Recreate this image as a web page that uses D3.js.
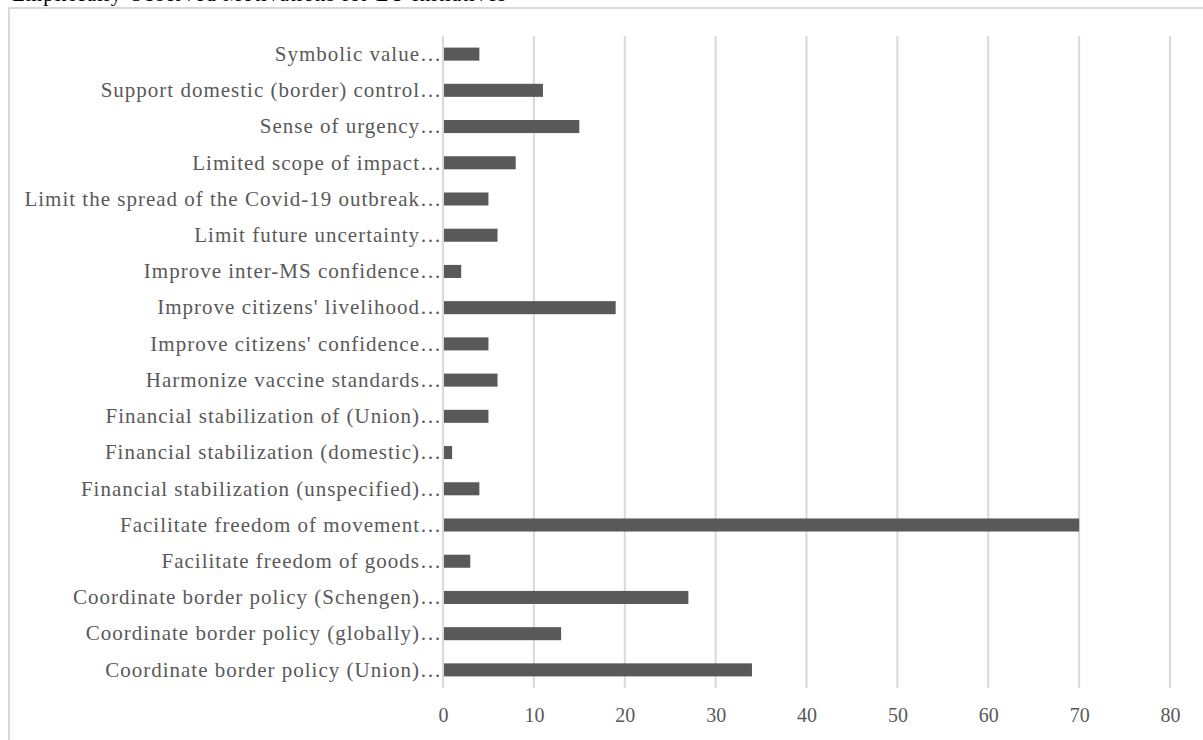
<!DOCTYPE html>
<html>
<head>
<meta charset="utf-8">
<script src="https://cdn.jsdelivr.net/npm/d3@7"></script>
<style>
  html, body { margin: 0; padding: 0; background: #fff; }
  svg { display: block; }
  text { font-family: "Liberation Serif", "DejaVu Serif", serif; }
</style>
</head>
<body>
<svg id="chart" width="1203" height="740"></svg>
<script>
// Motivations, listed top to bottom as drawn
const categories = [
  "Symbolic value",
  "Support domestic (border) control",
  "Sense of urgency",
  "Limited scope of impact",
  "Limit the spread of the Covid-19 outbreak",
  "Limit future uncertainty",
  "Improve inter-MS confidence",
  "Improve citizens' livelihood",
  "Improve citizens' confidence",
  "Harmonize vaccine standards",
  "Financial stabilization of (Union)",
  "Financial stabilization (domestic)",
  "Financial stabilization (unspecified)",
  "Facilitate freedom of movement",
  "Facilitate freedom of goods",
  "Coordinate border policy (Schengen)",
  "Coordinate border policy (globally)",
  "Coordinate border policy (Union)"
];
const counts = [4, 11, 15, 8, 5, 6, 2, 19, 5, 6, 5, 1, 4, 70, 3, 27, 13, 34];
const tickValues = [0, 10, 20, 30, 40, 50, 60, 70, 80];
const titleText = "Empirically Observed Motivations for EU Initiatives";

const svg = d3.select("#chart");
const margin = { left: 443, top: 36, bottom: 52 };
const W = 1203, H = 740;

// Chart frame (top and left edges)
svg.append("path")
  .attr("d", `M9,740 V8 H1203`)
  .attr("fill", "none")
  .attr("stroke", "#d9d9d9")
  .attr("stroke-width", 2);

// Title, running off the top of the page
svg.append("text")
  .attr("x", 12)
  .attr("y", 0.5)
  .attr("font-size", 21)
  .attr("letter-spacing", 1.0)
  .attr("fill", "#000")
  .text(titleText);

const x = d3.scaleLinear().domain([0, 80]).range([margin.left, 1170]);
const y = d3.scaleBand().domain(categories)
  .range([margin.top, H - margin.bottom])
  .paddingInner(0.64).paddingOuter(0.32);

// Vertical gridlines
svg.append("g")
  .selectAll("line")
  .data(tickValues)
  .join("line")
  .attr("x1", d => x(d)).attr("x2", d => x(d))
  .attr("y1", margin.top).attr("y2", H - margin.bottom)
  .attr("stroke", "#d9d9d9")
  .attr("stroke-width", 2);

// Bars
svg.append("g")
  .selectAll("rect")
  .data(categories.map((c, i) => ({ c, v: counts[i] })))
  .join("rect")
  .attr("x", x(0) + 1)
  .attr("y", d => y(d.c))
  .attr("width", d => x(d.v) - x(0) - 1)
  .attr("height", y.bandwidth())
  .attr("fill", "#595959");

// Category axis labels
const yAxis = d3.axisLeft(y).tickSize(0).tickPadding(1)
  .tickFormat(d => d + "\u2026");
const gy = svg.append("g")
  .attr("transform", `translate(${margin.left},0)`)
  .call(yAxis);
gy.select(".domain").remove();
gy.selectAll("text")
  .attr("font-family", "'Liberation Serif', serif")
  .attr("font-size", 21)
  .attr("letter-spacing", 1.0)
  .attr("fill", "#595959");

// Value axis labels
const xAxis = d3.axisBottom(x).tickValues(tickValues).tickSize(0).tickPadding(0);
const gx = svg.append("g")
  .attr("transform", `translate(0,${H - margin.bottom + 20})`)
  .call(xAxis);
gx.select(".domain").remove();
gx.selectAll("text")
  .attr("font-family", "'Liberation Serif', serif")
  .attr("font-size", 20)
  .attr("fill", "#595959");
</script>
</body>
</html>
